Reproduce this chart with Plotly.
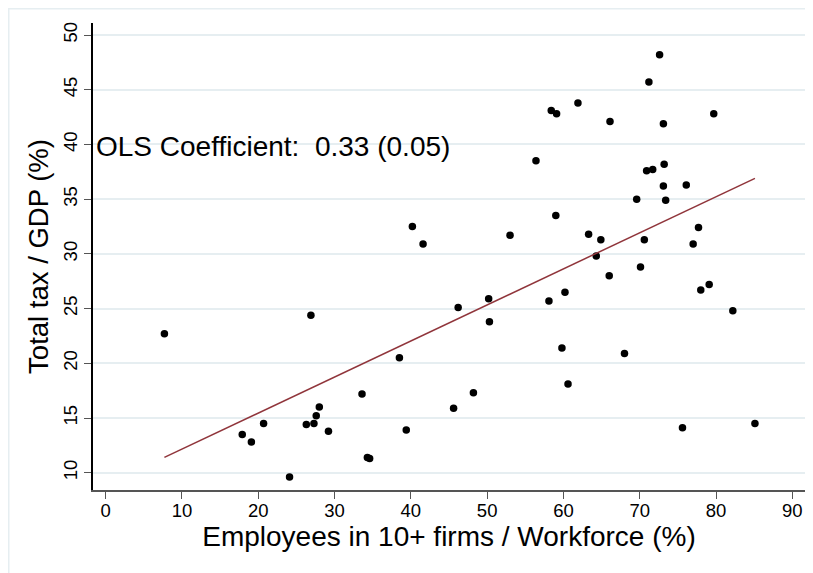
import plotly.graph_objects as go

# Employees in 10+ firms / Workforce (%)
emp_share = [7.7, 17.9, 19.1, 20.7, 24.1, 26.9, 26.3, 27.3, 27.6, 28.0, 29.2, 33.6, 34.3, 34.6, 38.5, 39.4,
             40.2, 41.6,
             46.2, 50.2, 50.3, 45.6, 48.2, 58.1, 60.2, 59.8, 60.6, 66.0, 70.1, 68.0, 78.0, 79.1, 82.2, 75.6, 85.1,
             72.6, 71.2, 61.9, 58.4, 59.1, 66.1, 73.1, 79.7, 56.4, 70.9, 71.7, 73.2, 73.1, 76.1, 69.6, 73.4,
             59.0, 53.0, 63.3, 64.9, 70.6, 77.7, 77.0, 64.3]
# Total tax / GDP (%)
tax_gdp = [22.7, 13.5, 12.8, 14.5, 9.6, 24.4, 14.4, 14.5, 15.2, 16.0, 13.8, 17.2, 11.4, 11.3, 20.5, 13.9,
           32.5, 30.9,
           25.1, 25.9, 23.8, 15.9, 17.3, 25.7, 26.5, 21.4, 18.1, 28.0, 28.8, 20.9, 26.7, 27.2, 24.8, 14.1, 14.5,
           48.2, 45.7, 43.8, 43.1, 42.8, 42.1, 41.9, 42.8, 38.5, 37.6, 37.7, 38.2, 36.2, 36.3, 35.0, 34.9,
           33.5, 31.7, 31.8, 31.3, 31.3, 32.4, 30.9, 29.8]

# OLS fitted line end points
fit_x = [7.7, 85.1]
fit_y = [11.4, 36.9]

x_ticks = [0, 10, 20, 30, 40, 50, 60, 70, 80, 90]
y_ticks = [10, 15, 20, 25, 30, 35, 40, 45, 50]

coef_label = "OLS Coefficient:\u00a0\u00a00.33 (0.05)"

FONT = "Liberation Sans, Arial, Helvetica, sans-serif"
GRID = "#e6eef1"

fig = go.Figure()
fig.add_trace(go.Scatter(x=emp_share, y=tax_gdp, mode="markers",
                         marker=dict(color="black", size=7.5, line=dict(width=0)),
                         showlegend=False, hoverinfo="skip"))
fig.add_trace(go.Scatter(x=fit_x, y=fit_y, mode="lines",
                         line=dict(color="#90353b", width=1.5),
                         showlegend=False, hoverinfo="skip"))

fig.add_annotation(x=-1.5, y=39.85, xref="x", yref="y", text=coef_label,
                   showarrow=False, xanchor="left", yanchor="middle",
                   font=dict(family=FONT, size=28, color="black"))

# outer light frame
fig.add_shape(type="rect", xref="paper", yref="paper",
              x0=-0.1183, x1=1.2, y0=-0.4, y1=1.0305,
              line=dict(color=GRID, width=1.5), fillcolor="rgba(0,0,0,0)", layer="below")

fig.update_layout(
    width=813, height=573,
    margin=dict(l=85, r=16, t=15, b=91),
    paper_bgcolor="white", plot_bgcolor="white",
    font=dict(family=FONT, color="black"),
    xaxis=dict(range=[-1.66, 91.66], tickvals=x_ticks, ticks="outside", ticklen=7,
               tickcolor="#555555", tickwidth=1.2, showgrid=False, zeroline=False,
               showline=True, linecolor="#555555", linewidth=1.5,
               ticklabelstandoff=-4,
               tickfont=dict(size=18.5, color="black"),
               title=dict(text="Employees in 10+ firms / Workforce (%)",
                          font=dict(size=28, color="black"), standoff=0)),
    yaxis=dict(range=[8.42, 51.1], tickvals=y_ticks, ticks="outside", ticklen=7,
               tickcolor="#555555", tickwidth=1.2, showgrid=True, gridcolor=GRID, gridwidth=1.5,
               zeroline=False, showline=True, linecolor="black", linewidth=1.5,
               tickangle=-90, tickfont=dict(size=18.5, color="black"),
               title=dict(text="Total tax / GDP (%)",
                          font=dict(size=27.5, color="black"), standoff=3)),
)

fig.write_html("out.html")
